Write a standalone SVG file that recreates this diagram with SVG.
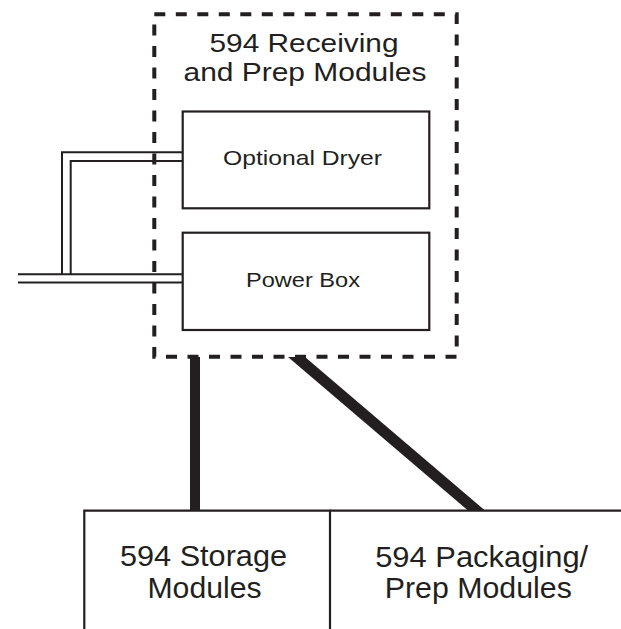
<svg xmlns="http://www.w3.org/2000/svg" width="621" height="629" viewBox="0 0 621 629">
<style>
.ln{fill:none;stroke:#231f20;stroke-width:2.2}
.pipe{fill:none;stroke:#231f20;stroke-width:2}
.box{fill:#fff;stroke:#231f20;stroke-width:2.2}
.dash{fill:none;stroke:#231f20;stroke-width:4;stroke-dasharray:11 10.5}
.thick{fill:#231f20;stroke:none}
text{font-family:"Liberation Sans",Arial,sans-serif;fill:#231f20;text-anchor:middle}
.big{font-size:29px}
.title{font-size:26px}
.small{font-size:21px}
</style>
<rect width="621" height="629" fill="#fff"/>
<g id="connectors">
  <path class="pipe" d="M182,152.3 H62 V274.3"/>
  <path class="pipe" d="M182,161 H70.7 V274.3"/>
  <path class="pipe" d="M18,274.3 H182.7"/>
  <path class="pipe" d="M18,282.5 H182.7"/>
  <rect class="thick" x="190" y="357" width="10" height="153.5"/>
  <polygon class="thick" points="288,357 305,357 485,510.5 468,510.5"/>
</g>
<g id="receiving">
  <rect class="dash" x="154.3" y="14.3" width="302.4" height="342.4"/>
  <text class="title" x="304" y="52" textLength="189" lengthAdjust="spacingAndGlyphs">594 Receiving</text>
  <text class="title" x="305" y="81" textLength="243" lengthAdjust="spacingAndGlyphs">and Prep Modules</text>
</g>
<g id="dryer">
  <rect class="box" x="182.7" y="111.5" width="246.6" height="96.8"/>
  <text class="small" x="302.5" y="165" textLength="159" lengthAdjust="spacingAndGlyphs">Optional Dryer</text>
</g>
<g id="power">
  <rect class="box" x="182.7" y="232.7" width="246.6" height="97.3"/>
  <text class="small" x="303" y="287" textLength="114" lengthAdjust="spacingAndGlyphs">Power Box</text>
</g>
<g id="storage">
  <path class="ln" d="M84.3,629 V510.7 H330 V629"/>
  <text class="big" x="203.5" y="566" textLength="167" lengthAdjust="spacingAndGlyphs">594 Storage</text>
  <text class="big" x="204.5" y="598" textLength="114" lengthAdjust="spacingAndGlyphs">Modules</text>
</g>
<g id="packaging">
  <path class="ln" d="M330,510.7 H621"/>
  <text class="big" x="481.7" y="567" textLength="213" lengthAdjust="spacingAndGlyphs">594 Packaging/</text>
  <text class="big" x="478.3" y="598" textLength="187" lengthAdjust="spacingAndGlyphs">Prep Modules</text>
</g>
</svg>
